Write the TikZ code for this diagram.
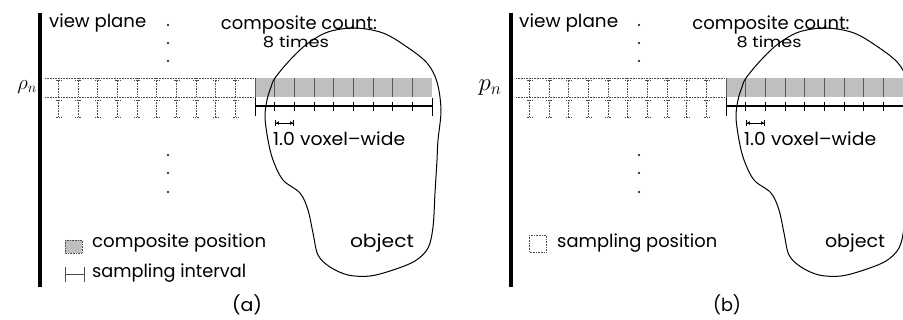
\documentclass[tikz,border=0pt]{standalone}
\usepackage{fontspec}
\setmainfont{Poppins}
\usetikzlibrary{arrows.meta}
\newcommand{\fitw}[2]{\resizebox{#1pt}{\height}{#2}}
\tikzset{
  lbl/.style={inner sep=0pt, font=\fontsize{18}{21}\selectfont},
  small/.style={inner sep=0pt, font=\fontsize{15}{18}\selectfont},
  dotline/.style={draw=black!70, densely dotted, line width=0.6pt},
  compfill/.style={fill=black!25},
  cellline/.style={draw=black!65, line width=0.8pt},
  ruler/.style={draw=black, line width=1.4pt},
  rulertick/.style={draw=black, line width=1pt},
  measure/.style={draw=black, line width=0.9pt, {Bar[width=6pt]Latex[length=3pt,width=4pt]}-{Latex[length=3pt,width=4pt]Bar[width=6pt]}},
  blob/.style={draw=black, line width=1pt},
  plane/.style={draw=black, line width=3.5pt},
  vdot/.style={fill=black},
}
\newcommand{\panelbody}{%
  \draw[dotline] (45,78) -- (255,78);
  \draw[dotline] (45,97) -- (255,97);
  \foreach \k in {-10,...,-1} {
    \pgfmathsetmacro\xx{255+19.67*\k}
    \draw[dotline] (\xx,78) -- (\xx,97);
    \draw[dotline] (\xx-2.5,80) -- (\xx+2.5,80);
    \draw[dotline] (\xx,100) -- (\xx,117);
    \draw[dotline] (\xx-2.5,100) -- (\xx+2.5,100);
    \draw[dotline] (\xx-2.5,117) -- (\xx+2.5,117);
  }
  \fill[compfill] (255,78) rectangle (432,97);
  \draw[cellline] (255,78) -- (255,97);
  \foreach \k in {1,...,8} {\draw[cellline] ({255+19.67*\k},78) -- ++(0,19);}
  \draw[ruler] (255,106) -- (432,106);
  \draw[rulertick] (255,98) -- (255,116);
  \draw[rulertick] (432,98) -- (432,116);
  \foreach \k in {1,...,8} {\draw[rulertick] ({255+19.67*\k},102) -- ++(0,9);}
  \coordinate (ms) at (275,123);
  \coordinate (me) at (294,123);
  \draw[measure] (ms) -- (me);
  \draw[blob] plot[smooth cycle, tension=0.55] coordinates {
    (275,78) (290,60) (307,44) (328,32) (355,28) (383,33) (407,47) (427,63)
    (437,82) (441,110) (438,140) (437,160) (435,193) (433,227) (428,248)
    (415,261) (393,270) (370,276) (348,275) (330,267) (318,255) (313,233)
    (308,210) (300,193) (283,180) (273,160) (268,140) (265,117) (267,100) (271,87)};
  \foreach \y in {25,43,61,155,173,192} {\fill[vdot] (168,\y) circle (1.1pt);}
  \draw[plane] (40,13) -- (40,287);
}
\begin{document}
\begin{tikzpicture}[x=1pt, y=-1pt]
\useasboundingbox (0,0) rectangle (903,320);
% panel (a)
\panelbody
\node[lbl, anchor=base west] (aview) at (49,28) {\fitw{97}{view plane}};
\node[lbl, anchor=base] (acount) at (299,30) {\fitw{156}{composite count:}};
\node[small, anchor=base] (atimes) at (296,48) {\fitw{66}{8 times}};
\node[lbl, anchor=base west] (avoxel) at (273,146) {\fitw{132}{1.0 voxel--wide}};
\fill[compfill] (65,240) rectangle (82,253);
\draw[dotline] (65,240) rectangle (82,253);
\node[lbl, anchor=base west] (acomp) at (92,248) {\fitw{174}{composite position}};
\draw[black!70, line width=0.9pt] (65,267) -- (65,282) (84,267) -- (84,282) (65,274) -- (84,274);
\node[lbl, anchor=base west] (asamp) at (92,278) {\fitw{154}{sampling interval}};
\node[lbl, anchor=base] (aobj) at (382,248) {\fitw{64}{object}};
\node[lbl, anchor=base] (acap) at (247,312) {\fitw{30}{(a)}};
\node[inner sep=0pt, font=\fontsize{20}{24}\selectfont] (apn) at (27,87) {$\rho_n$};
% panel (b)
\begin{scope}
\clip (0,0) rectangle (903,320);
\begin{scope}[xshift=471pt]
\panelbody
\end{scope}
\end{scope}
\node[lbl, anchor=base west] (bview) at (519,28) {\fitw{99}{view plane}};
\node[lbl, anchor=base] (bcount) at (771,30) {\fitw{157}{composite count:}};
\node[small, anchor=base] (btimes) at (769,48) {\fitw{65}{8 times}};
\node[lbl, anchor=base west] (bvoxel) at (744,146) {\fitw{132}{1.0 voxel--wide}};
\draw[dotline] (529,235) rectangle (546,252);
\node[lbl, anchor=base west] (bsamp) at (557,248) {\fitw{160}{sampling position}};
\node[lbl, anchor=base] (bobj) at (855,248) {\fitw{60}{object}};
\node[lbl, anchor=base] (bcap) at (727,312) {\fitw{28}{(b)}};
\node[inner sep=0pt, font=\fontsize{24}{28}\selectfont] (bpn) at (490,88) {$p_n$};
\end{tikzpicture}
\end{document}
